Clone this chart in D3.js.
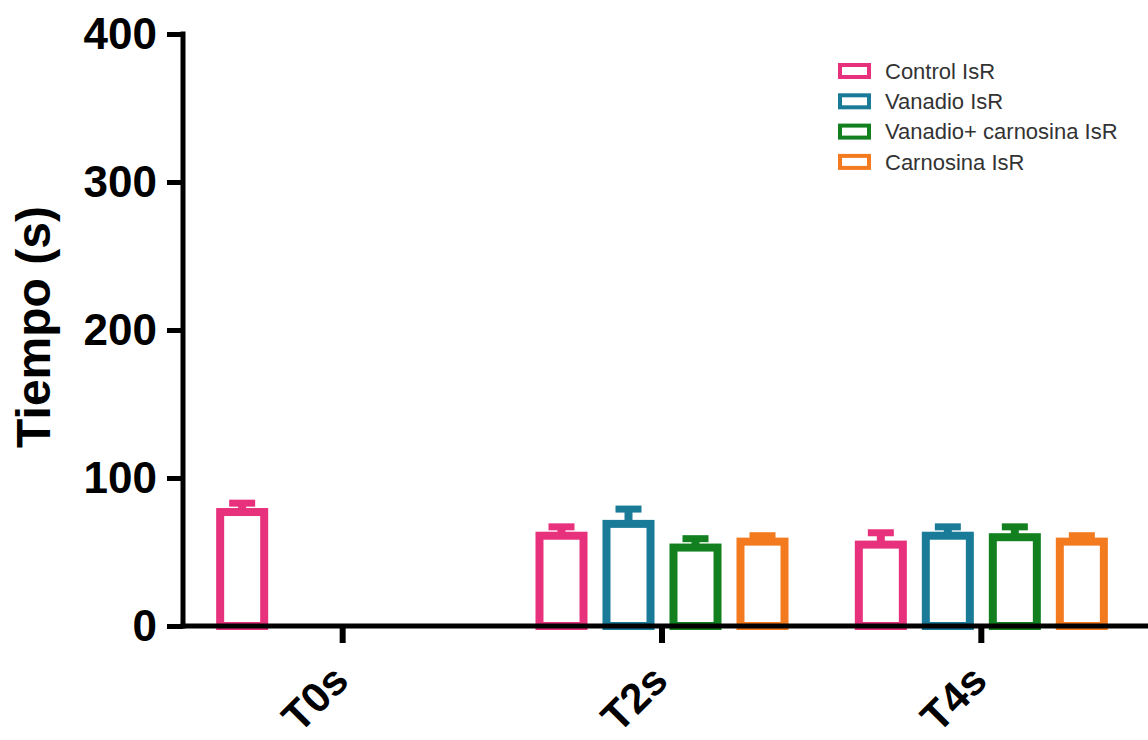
<!DOCTYPE html>
<html>
<head>
<meta charset="utf-8">
<script src="https://cdn.jsdelivr.net/npm/d3@7"></script>
<style>
  html, body { margin: 0; padding: 0; background: #fff; }
  svg { display: block; }
</style>
</head>
<body>
<svg id="chart" width="1148" height="740"></svg>
<script>
// ---- data ----
const categories = ["T0s", "T2s", "T4s"];
const seriesNames = ["Control IsR", "Vanadio IsR", "Vanadio+ carnosina IsR", "Carnosina IsR"];
const controlValues   = [77, 61, 55];
const controlErr      = [6, 6, 8];
const vanadioValues   = [null, 69, 61];
const vanadioErr      = [null, 10, 6];
const vanCarnValues   = [null, 53, 60];
const vanCarnErr      = [null, 6, 7];
const carnosinaValues = [null, 57, 57];
const carnosinaErr    = [null, 4, 4];
const yTicks = [0, 100, 200, 300, 400];
const colors = ["#E8317D", "#1A7B98", "#12801F", "#F47A20"];

const seriesValues = [controlValues, vanadioValues, vanCarnValues, carnosinaValues];
const seriesErrs = [controlErr, vanadioErr, vanCarnErr, carnosinaErr];

const svg = d3.select("#chart");

const y = d3.scaleLinear().domain([0, 400]).range([626, 34]);
const x0 = d3.scaleBand().domain(categories).range([183, 1141]).padding(0);
const half = 134;
const x1 = d3.scaleBand().domain(seriesNames)
  .range([x0.bandwidth() / 2 - half, x0.bandwidth() / 2 + half])
  .paddingInner(0.343).paddingOuter(0.1715);

const data = [];
categories.forEach((c, ci) => {
  seriesNames.forEach((s, si) => {
    const v = seriesValues[si][ci];
    if (v != null) data.push({cat: c, ser: s, si, v, e: seriesErrs[si][ci]});
  });
});

// bars
const g = svg.append("g");
g.selectAll("rect.bar").data(data).enter().append("rect")
  .attr("class", "bar")
  .attr("x", d => x0(d.cat) + x1(d.ser))
  .attr("y", d => y(d.v))
  .attr("width", x1.bandwidth())
  .attr("height", d => y(0) - y(d.v))
  .attr("fill", "#fff")
  .attr("stroke", d => colors[d.si])
  .attr("stroke-width", 8);

// error bars (upper)
g.selectAll("line.stem").data(data).enter().append("line")
  .attr("x1", d => x0(d.cat) + x1(d.ser) + x1.bandwidth() / 2)
  .attr("x2", d => x0(d.cat) + x1(d.ser) + x1.bandwidth() / 2)
  .attr("y1", d => y(d.v))
  .attr("y2", d => y(d.v + d.e))
  .attr("stroke", d => colors[d.si])
  .attr("stroke-width", 8);
g.selectAll("line.cap").data(data).enter().append("line")
  .attr("x1", d => x0(d.cat) + x1(d.ser) + x1.bandwidth() / 2 - 13)
  .attr("x2", d => x0(d.cat) + x1(d.ser) + x1.bandwidth() / 2 + 13)
  .attr("y1", d => y(d.v + d.e))
  .attr("y2", d => y(d.v + d.e))
  .attr("stroke", d => colors[d.si])
  .attr("stroke-width", 7);

// y axis
const yAxis = d3.axisLeft(y).tickValues(yTicks).tickSize(16).tickSizeOuter(0).tickPadding(10);
const gy = svg.append("g").attr("transform", "translate(183,0)").call(yAxis);
gy.select(".domain").remove();
gy.selectAll(".tick line").attr("stroke", "#000").attr("stroke-width", 5);
gy.selectAll(".tick text")
  .attr("font-family", "'Liberation Sans', Arial, sans-serif")
  .attr("font-weight", "bold")
  .attr("font-size", 44)
  .attr("fill", "#000");
svg.append("line").attr("x1", 183).attr("x2", 183).attr("y1", y(400) - 2.5).attr("y2", y(0) + 2.5)
  .attr("stroke", "#000").attr("stroke-width", 5);

// x axis
const xAxis = d3.axisBottom(x0).tickSize(17).tickSizeOuter(0).tickFormat("");
const gx = svg.append("g").attr("transform", `translate(0,${y(0)})`).call(xAxis);
gx.select(".domain").remove();
gx.selectAll(".tick line").attr("stroke", "#000").attr("stroke-width", 6);
svg.append("line").attr("x1", 180.5).attr("x2", 1148).attr("y1", y(0)).attr("y2", y(0))
  .attr("stroke", "#000").attr("stroke-width", 5);

svg.selectAll("text.xlab").data(categories).enter().append("text")
  .attr("class", "xlab")
  .attr("transform", d => `translate(${x0(d) + x0.bandwidth() / 2 + 8},683) rotate(-45)`)
  .attr("text-anchor", "end")
  .attr("font-family", "'Liberation Sans', Arial, sans-serif")
  .attr("font-weight", "bold")
  .attr("font-size", 42)
  .attr("fill", "#000")
  .text(d => d);

// y title
svg.append("text")
  .attr("transform", "translate(50,327) rotate(-90)")
  .attr("text-anchor", "middle")
  .attr("font-family", "'Liberation Sans', Arial, sans-serif")
  .attr("font-weight", "bold")
  .attr("font-size", 48)
  .attr("fill", "#000")
  .text("Tiempo (s)");

// legend
const leg = svg.append("g");
const rows = leg.selectAll("g").data(seriesNames).enter().append("g")
  .attr("transform", (d, i) => `translate(0,${71 + i * 30.3})`);
rows.append("rect")
  .attr("x", 840).attr("y", -6).attr("width", 29).attr("height", 12)
  .attr("fill", "#fff")
  .attr("stroke", (d, i) => colors[i])
  .attr("stroke-width", 4);
rows.append("text")
  .attr("x", 885).attr("y", 0).attr("dy", "0.35em")
  .attr("font-family", "'Liberation Sans', Arial, sans-serif")
  .attr("font-size", 22)
  .attr("fill", "#333")
  .text(d => d);
</script>
</body>
</html>
